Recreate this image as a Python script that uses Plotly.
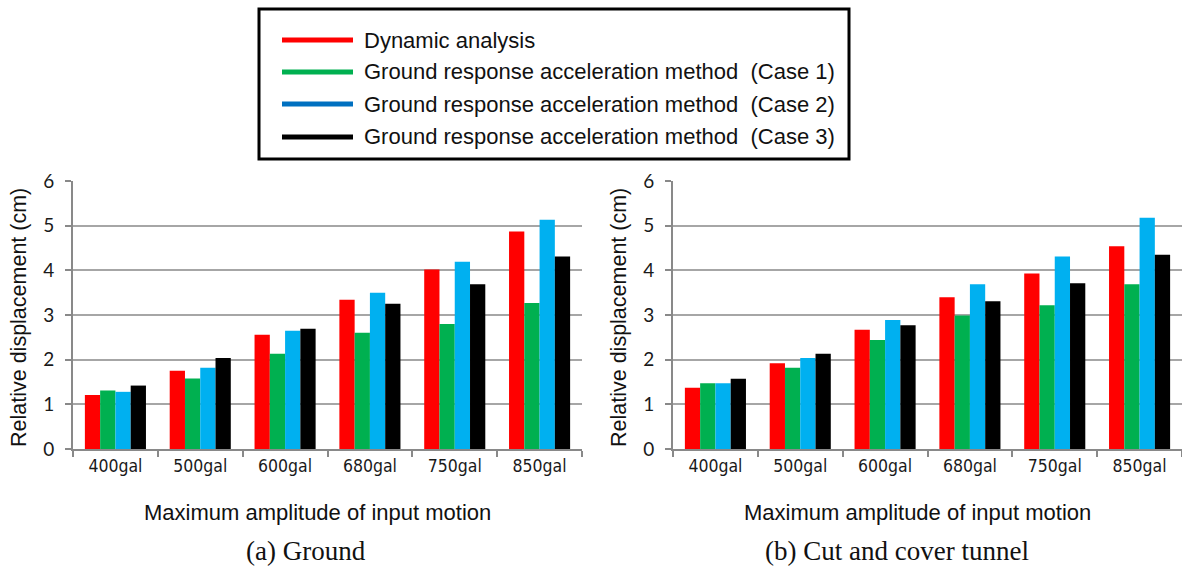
import plotly.graph_objects as go

W, H = 1182, 570

categories = ["400gal", "500gal", "600gal", "680gal", "750gal", "850gal"]
series_names = [
    "Dynamic analysis",
    "Ground response acceleration method  (Case 1)",
    "Ground response acceleration method  (Case 2)",
    "Ground response acceleration method  (Case 3)",
]
bar_colors = ["#FF0000", "#00B050", "#00B0F0", "#000000"]
legend_colors = ["#FF0000", "#00B050", "#0070C0", "#000000"]

# (a) Ground
ground_dynamic = [1.21, 1.75, 2.56, 3.34, 4.02, 4.87]
ground_case1 = [1.31, 1.58, 2.13, 2.60, 2.80, 3.27]
ground_case2 = [1.28, 1.82, 2.65, 3.50, 4.19, 5.13]
ground_case3 = [1.42, 2.04, 2.69, 3.25, 3.69, 4.31]

# (b) Cut and cover tunnel
tunnel_dynamic = [1.37, 1.92, 2.67, 3.40, 3.93, 4.54]
tunnel_case1 = [1.47, 1.82, 2.44, 2.99, 3.22, 3.69]
tunnel_case2 = [1.47, 2.04, 2.89, 3.69, 4.31, 5.18]
tunnel_case3 = [1.57, 2.13, 2.77, 3.31, 3.71, 4.35]

y_ticks = [0, 1, 2, 3, 4, 5, 6]
x_title = "Maximum amplitude of input motion"
y_title = "Relative displacement (cm)"
panel_titles = ["(a) Ground", "(b) Cut and cover tunnel"]

ground = [ground_dynamic, ground_case1, ground_case2, ground_case3]
tunnel = [tunnel_dynamic, tunnel_case1, tunnel_case2, tunnel_case3]

fig = go.Figure()
for vals, xa, ya in [(ground, "x", "y"), (tunnel, "x2", "y2")]:
    for name, v, c in zip(series_names, vals, bar_colors):
        fig.add_trace(go.Bar(
            x=categories, y=v, name=name, marker=dict(color=c, line=dict(width=0)),
            xaxis=xa, yaxis=ya, showlegend=False, offsetgroup=name,
        ))

def px(x):
    return x / W

def py(y):
    return 1 - y / H

ydom = [py(449), py(181)]
axis_grey = "#898989"
grid_grey = "#A6A6A6"
tick_font = dict(family="Lato, 'Open Sans', sans-serif", size=19, color="#1a1a1a")
xtick_font = dict(family="'Liberation Sans Narrow', 'DejaVu Sans Condensed', 'Liberation Sans', sans-serif", size=17.5, color="#1a1a1a")

xcommon = dict(type="category", showline=True, linecolor=axis_grey, linewidth=2,
               ticks="outside", tickson="boundaries", ticklen=6, tickcolor=axis_grey,
               tickwidth=1.5, showgrid=False, zeroline=False, tickfont=xtick_font,
               fixedrange=True, automargin=False)
ycommon = dict(range=[0, 6], tickvals=y_ticks, showline=True, linecolor=axis_grey,
               linewidth=2, ticks="outside", ticklen=6, tickcolor=axis_grey, tickwidth=1.5,
               showgrid=True, gridcolor=grid_grey, gridwidth=1.5, zeroline=False,
               tickfont=tick_font, ticklabelstandoff=7, fixedrange=True, automargin=False)

fig.update_layout(
    width=W, height=H, autosize=False,
    margin=dict(l=0, r=0, t=0, b=0, pad=0, autoexpand=False),
    paper_bgcolor="white", plot_bgcolor="white",
    barmode="group", bargap=0.28, bargroupgap=0,
    xaxis=dict(domain=[px(73), px(582)], anchor="y", **xcommon),
    yaxis=dict(domain=ydom, anchor="x", **ycommon),
    xaxis2=dict(domain=[px(673), 1.0], anchor="y2", **xcommon),
    yaxis2=dict(domain=ydom, anchor="x2", **ycommon),
    showlegend=False,
)

annotations = []
shapes = []
label_font = dict(family="'Liberation Sans', Arial, sans-serif", size=22, color="#111")
ytitle_font = dict(family="'Liberation Sans', Arial, sans-serif", size=21.5, color="#111")
cap_font = dict(family="'Liberation Serif', 'Times New Roman', serif", size=27, color="#111")
for xt_c, cap_c, ycx, title in [(318, 306, 19, panel_titles[0]), (917, 897, 619, panel_titles[1])]:
    annotations.append(dict(text=x_title, x=px(xt_c), y=py(512), xref="paper", yref="paper",
                            showarrow=False, font=label_font, xanchor="center", yanchor="middle"))
    annotations.append(dict(text=title, x=px(cap_c), y=py(551), xref="paper", yref="paper",
                            showarrow=False, font=cap_font, xanchor="center", yanchor="middle"))
    annotations.append(dict(text=y_title, x=px(ycx), y=py(318), xref="paper", yref="paper",
                            showarrow=False, font=ytitle_font, textangle=-90,
                            xanchor="center", yanchor="middle"))

# legend box
shapes.append(dict(type="rect", xref="paper", yref="paper", x0=px(259), x1=px(849),
                   y0=py(9), y1=py(159), line=dict(color="black", width=3), fillcolor="white"))
legend_rows = [40, 72, 104, 137]
leg_font = dict(family="'Liberation Sans', Arial, sans-serif", size=22, color="#111")
for name, c, ry in zip(series_names, legend_colors, legend_rows):
    shapes.append(dict(type="line", xref="paper", yref="paper", x0=px(282), x1=px(353),
                       y0=py(ry), y1=py(ry), line=dict(color=c, width=5)))
    annotations.append(dict(text=name, x=px(362), y=py(ry), xref="paper", yref="paper",
                            showarrow=False, font=leg_font, xanchor="left", yanchor="middle"))

fig.update_layout(annotations=annotations, shapes=shapes)
fig.write_html("out.html")
